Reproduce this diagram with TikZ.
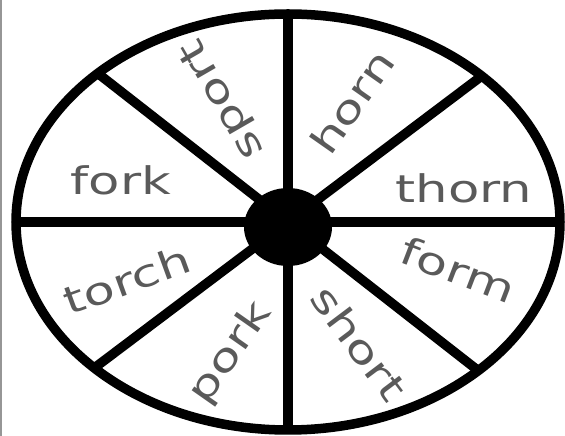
\documentclass[tikz,border=0pt]{standalone}
\usepackage{fontspec}
\usepackage{xcolor}
\newfontfamily\wordfont[FakeStretch=1.35]{DejaVu Sans}
\usetikzlibrary{shapes.geometric}
\definecolor{inkgray}{RGB}{90,90,90}
\definecolor{edgegray}{RGB}{150,150,150}

\begin{document}
\begin{tikzpicture}[
  x=1pt, y=1pt,
  rimline/.style={
    ellipse, draw=black, line width=9.5pt,
    minimum width=544pt, minimum height=416pt,
    inner sep=0pt, outer sep=0pt
  },
  spoke/.style={draw=black, line width=9.5pt},
  hubdisc/.style={
    ellipse, fill=black,
    minimum width=88pt, minimum height=78pt, inner sep=0pt
  },
  word/.style={
    font=\wordfont\fontsize{38}{38}\selectfont,
    text=inkgray, inner sep=0pt
  }
]
\useasboundingbox (0,0) rectangle (565,436);

% left border of the scan
\coordinate (edgetop) at (1,436);
\coordinate (edgebot) at (1,0);
\draw[edgegray, line width=2pt] (edgetop) -- (edgebot);

% wheel
\node[rimline] (rim) at (288,214) {};
\coordinate (axle) at (288,214);
\foreach \a in {0, 37.6, 90, 142.4, 180, 217.6, 270, 322.4}
  \draw[spoke] (axle) -- (rim.\a);
\node[hubdisc] (hub) at (288,209) {};

% words
\node[word, rotate=120] (sport) at (223,337) {sport};
\node[word, rotate=55] (horn) at (352,334) {horn};
\node[word, anchor=base] (thorn) at (464,233) {thorn};
\node[word, rotate=-21] (form) at (458,166) {form};
\node[word, rotate=-53] (short) at (359,93) {short};
\node[word, rotate=55] (pork) at (231,83) {pork};
\node[word, rotate=20] (torch) at (127,156) {torch};
\node[word, anchor=base] (fork) at (121,241) {fork};

\end{tikzpicture}
\end{document}
